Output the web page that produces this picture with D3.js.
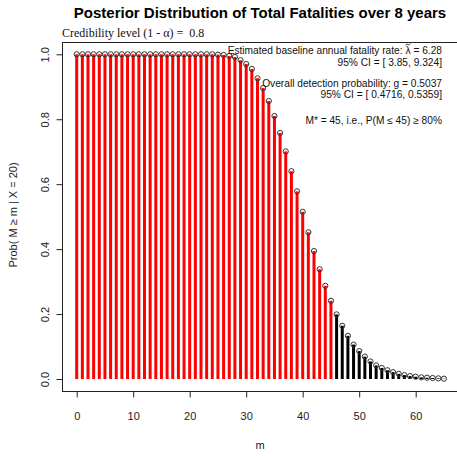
<!DOCTYPE html>
<html>
<head>
<meta charset="utf-8">
<script src="https://cdn.jsdelivr.net/npm/d3@7"></script>
<style>
  html, body { margin: 0; padding: 0; background: #fff; }
  svg { display: block; }
  text { white-space: pre; }
</style>
</head>
<body>
<script>
// Posterior survival probabilities P(M >= m | X = 20), m = 0..65
const mValues = d3.range(0, 66);
const probAtLeast = [
  1, 1, 1, 1, 1, 1, 1, 1, 1, 1,
  1, 1, 1, 1, 1, 1, 1, 1, 1, 1,
  1, 1, 1, 1, 1, 0.999, 0.998, 0.995, 0.992, 0.982,
  0.970, 0.955, 0.926, 0.896, 0.856, 0.810, 0.758, 0.701, 0.640, 0.578,
  0.515, 0.452, 0.394, 0.338, 0.287, 0.241, 0.199, 0.164, 0.133, 0.106,
  0.086, 0.069, 0.054, 0.042, 0.034, 0.027, 0.021, 0.016, 0.012, 0.009,
  0.007, 0.005, 0.004, 0.003, 0.002, 0.001
];
const mStar = 45;
const xTicks = [0, 10, 20, 30, 40, 50, 60];
const yTicks = [0.0, 0.2, 0.4, 0.6, 0.8, 1.0];
const titleText = "Posterior Distribution of Total Fatalities over 8 years";
const subtitleText = "Credibility level (1 - \u03b1) =  0.8";
// the first line carries a lambda with a tilde accent, drawn as a small path
const lambdaLine = ["Estimated baseline annual fatality rate: ", "\u03bb", " = 6.28"];
const infoLines = [
  "95% CI = [ 3.85, 9.324]",
  "Overall detection probability: g = 0.5037",
  "95% CI = [ 0.4716, 0.5359]",
  "M* = 45, i.e., P(M \u2264 45) \u2265 80%"
];
const xLabel = "m";
const yLabel = "Prob( M \u2265 m | X = 20)";

const W = 457, H = 456;
const box = { left: 62, top: 42, right: 458, bottom: 391 };
const sans = "'Liberation Sans', Arial, sans-serif";
const serif = "'Liberation Serif', 'Times New Roman', serif";

const svg = d3.select("body").append("svg")
  .attr("width", W).attr("height", H);

const x = d3.scaleLinear().domain([0, 60]).range([76.7, 415.7]);
const y = d3.scaleLinear().domain([0, 1]).range([379, 54.3]);

// stems
svg.append("g").selectAll("line")
  .data(mValues)
  .join("line")
  .attr("x1", d => x(d)).attr("x2", d => x(d))
  .attr("y1", y(0)).attr("y2", d => y(probAtLeast[d]))
  .attr("stroke", d => d <= mStar ? "#ff0000" : "#000")
  .attr("stroke-width", 3);

// open circles at the stem heads
svg.append("g").selectAll("circle")
  .data(mValues)
  .join("circle")
  .attr("cx", d => x(d))
  .attr("cy", d => y(probAtLeast[d]))
  .attr("r", 2.6)
  .attr("fill", "none")
  .attr("stroke", "#333")
  .attr("stroke-width", 1);

// plot box
svg.append("rect")
  .attr("x", box.left + 0.5).attr("y", box.top + 0.5)
  .attr("width", box.right - box.left).attr("height", box.bottom - box.top)
  .attr("fill", "none").attr("stroke", "#222").attr("stroke-width", 1);

// x axis
const xAxis = svg.append("g")
  .attr("transform", `translate(0,${box.bottom + 0.5})`)
  .call(d3.axisBottom(x).tickValues(xTicks).tickSize(6).tickPadding(15)
    .tickFormat(d3.format("d")));
xAxis.select(".domain")
  .attr("d", `M${x(0)},0H${x(60)}`).attr("stroke", "#222");
xAxis.selectAll(".tick line").attr("stroke", "#222");
xAxis.selectAll("text")
  .attr("font-family", sans).attr("font-size", 11).attr("fill", "#222");

// y axis
const yAxis = svg.append("g")
  .attr("transform", `translate(${box.left + 0.5},0)`)
  .call(d3.axisLeft(y).tickValues(yTicks).tickSize(6).tickFormat(d3.format(".1f")));
yAxis.select(".domain")
  .attr("d", `M0,${y(0)}V${y(1)}`).attr("stroke", "#222");
yAxis.selectAll(".tick line").attr("stroke", "#222");
yAxis.selectAll(".tick text")
  .attr("font-family", sans).attr("font-size", 11).attr("fill", "#222")
  .attr("x", 0).attr("dy", 0)
  .attr("text-anchor", "middle")
  .attr("transform", "translate(-18,0) rotate(-90)")
  .attr("dominant-baseline", "central");

// titles
svg.append("text")
  .attr("x", 260).attr("y", 18)
  .attr("text-anchor", "middle")
  .attr("font-family", sans).attr("font-weight", "bold").attr("font-size", 15)
  .attr("fill", "#000")
  .text(titleText);

svg.append("text")
  .attr("x", 62).attr("y", 37)
  .attr("font-family", serif).attr("font-size", 12)
  .attr("fill", "#111")
  .text(subtitleText);

// axis labels
svg.append("text")
  .attr("x", 260).attr("y", 449)
  .attr("text-anchor", "middle")
  .attr("font-family", sans).attr("font-size", 11).attr("fill", "#222")
  .text(xLabel);

svg.append("text")
  .attr("transform", `translate(17,215) rotate(-90)`)
  .attr("text-anchor", "middle")
  .attr("font-family", sans).attr("font-size", 11).attr("fill", "#222")
  .text(yLabel);

// estimate summary block
const infoFont = 10.2;
const infoX = 442;
const lambdaText = svg.append("text")
  .attr("x", infoX).attr("y", 54)
  .attr("text-anchor", "end")
  .attr("font-family", sans).attr("font-size", infoFont).attr("fill", "#111");
lambdaText.selectAll("tspan").data(lambdaLine).join("tspan").text(d => d);
// tilde accent over the lambda
const lam = lambdaText.selectAll("tspan").nodes()[1];
const lb = lam.getBBox();
const cx = lb.x + lb.width / 2, ty = 44.5;
svg.append("path")
  .attr("d", `M${cx - 2.5},${ty + 0.8} Q${cx - 1.25},${ty - 1.2} ${cx},${ty} T${cx + 2.5},${ty - 0.8}`)
  .attr("fill", "none").attr("stroke", "#111").attr("stroke-width", 0.8);

const infoY = [66, 87, 98, 124];
svg.append("g").selectAll("text")
  .data(infoLines)
  .join("text")
  .attr("x", infoX)
  .attr("y", (d, i) => infoY[i])
  .attr("text-anchor", "end")
  .attr("font-family", sans).attr("font-size", infoFont).attr("fill", "#111")
  .text(d => d);
</script>
</body>
</html>
